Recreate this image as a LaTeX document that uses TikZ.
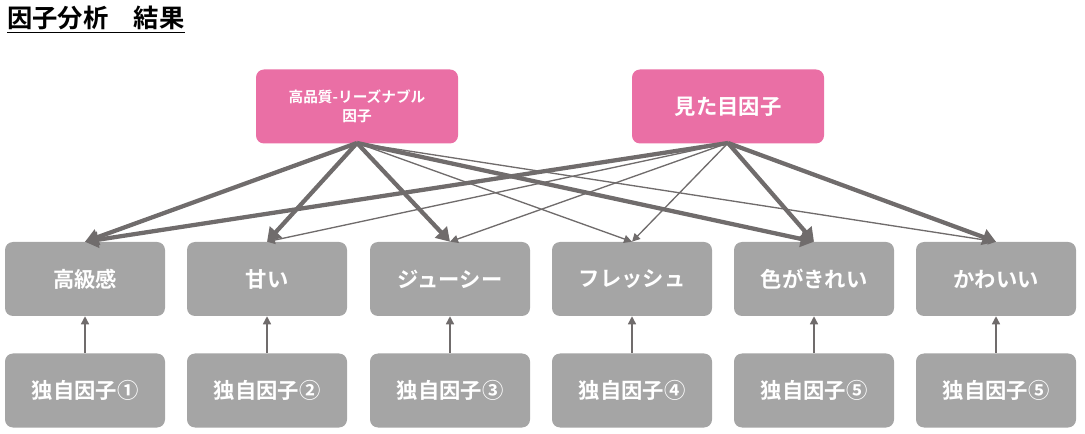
\documentclass[tikz,border=0pt]{standalone}
\usepackage{fontspec}
\setmainfont{Noto Sans CJK JP}[BoldFont={* Bold}]
\usetikzlibrary{arrows.meta}
\definecolor{pk}{HTML}{EA6FA5}
\definecolor{gb}{HTML}{A5A5A5}
\definecolor{ln}{HTML}{706C6C}
\begin{document}
\begin{tikzpicture}[x=0.75pt,y=-0.75pt,
 box/.style={rounded corners=6pt,draw=none,text=white,font=\bfseries\fontsize{16}{18}\selectfont,minimum width=120pt,minimum height=55.5pt,inner sep=0pt},
 pink/.style={box,fill=pk},
 gray/.style={box,fill=gb},
 thick/.style={draw=ln,line width=3.2pt,-{Triangle[length=10pt,width=12pt]}},
 thin/.style={draw=ln,line width=1pt,-{Triangle[length=6pt,width=6pt]}}]
\useasboundingbox (0,0) rectangle (1085,434);
\node[anchor=north west,font=\bfseries\fontsize{19}{22}\selectfont,inner sep=0pt] (t) at (7,6) {\underline{因子分析　結果}};
\node[pink,minimum width=151.5pt,align=center,font=\bfseries\fontsize{11}{14}\selectfont] (f1) at (357,106.5) {高品質-リーズナブル\\因子};
\node[pink,minimum width=144pt] (f2) at (728,106.5) {見た目因子};
\foreach \n/\x/\t/\u in {a/85/高級感/①,b/267/甘い/②,c/450/ジューシー/③,d/632/フレッシュ/④,e/814/色がきれい/⑤,f/996/かわいい/⑤}{
 \node[gray] (\n) at (\x,279) {\t};
 \node[gray] (u\n) at (\x,390.5) {独自因子\u};
 \draw[thin] (u\n.north) -- (\n.south);
}
\coordinate (s1) at (357,143);
\coordinate (s2) at (728,143);
\draw[thin] (s1) -- (d.north);
\draw[thin] (s1) -- (f.north);
\draw[thin] (s2) -- (b.north);
\draw[thin] (s2) -- (c.north);
\draw[thin] (s2) -- (d.north);
\draw[thick] (s1) -- (a.north);
\draw[thick] (s1) -- (b.north);
\draw[thick] (s1) -- (c.north);
\draw[thick] (s1) -- (e.north);
\draw[thick] (s2) -- (a.north);
\draw[thick] (s2) -- (e.north);
\draw[thick] (s2) -- (f.north);
\end{tikzpicture}
\end{document}
